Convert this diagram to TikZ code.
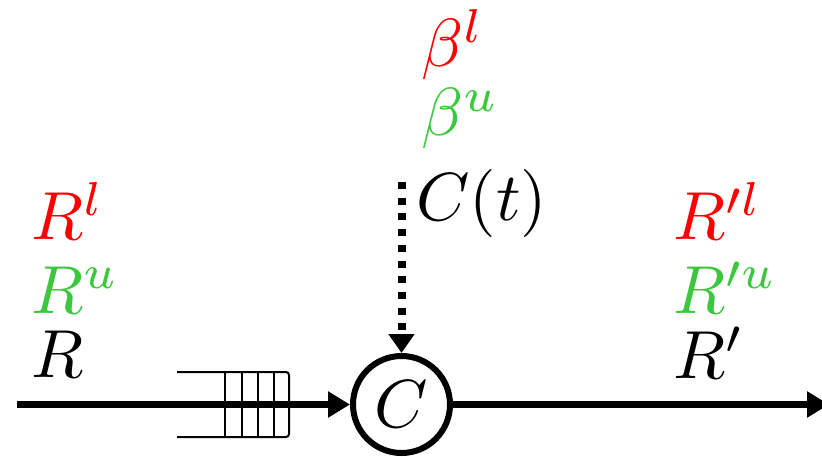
\documentclass[tikz,border=0pt]{standalone}
\usepackage{graphicx}
\usetikzlibrary{arrows.meta}
\definecolor{lred}{RGB}{255,0,0}
\definecolor{lgreen}{RGB}{60,200,60}
\newcommand{\hugemath}[1]{\scalebox{6.8}{$#1$}}
\begin{document}
\begin{tikzpicture}[x=1pt,y=-1pt,
  lbl/.style={anchor=base west,inner sep=0pt},
  mainarrow/.style={line width=7pt,-{Triangle[length=22pt,width=25pt]}},
  dotarrow/.style={line width=8pt,dash pattern=on 7pt off 8.7pt,-{Triangle[length=19pt,width=25pt]}},
  queue/.style={line width=2pt}]
\useasboundingbox (0,0) rectangle (822,457);
% server
\node[circle,draw,line width=6pt,minimum size=97pt,inner sep=0pt] (srv) at (401.5,404.5) {\hugemath{C}};
% queue
\draw[queue,rounded corners=3pt] (177,372) -- (289,372) -- (289,437) -- (177,437);
\foreach \x in {225,242,258,274} \draw[queue] (\x,372) -- (\x,437);
% coordinates
\coordinate (in) at (17,404.5);
\coordinate (out) at (829,404.5);
\coordinate (top) at (401.5,182);
% connectors
\draw[mainarrow] (in) -- (srv.west);
\draw[mainarrow] (srv.east) -- (out);
\draw[dotarrow] (top) -- (srv.north);
% labels
\node[lbl,text=lred] (rl) at (31,240) {\hugemath{R^l}};
\node[lbl,text=lgreen] (ru) at (31,313) {\hugemath{R^u}};
\node[lbl] (r) at (31,377) {\hugemath{R}};
\node[lbl,text=lred] (rpl) at (673,240) {\hugemath{R'^l}};
\node[lbl,text=lgreen] (rpu) at (673,313) {\hugemath{R'^u}};
\node[lbl] (rp) at (673,378) {\hugemath{R'}};
\node[lbl,text=lred] (bl) at (421,67) {\hugemath{\beta^l}};
\node[lbl,text=lgreen] (bu) at (421,136) {\hugemath{\beta^u}};
\node[lbl] (ct) at (416,221) {\hugemath{C(t)}};
\end{tikzpicture}
\end{document}
